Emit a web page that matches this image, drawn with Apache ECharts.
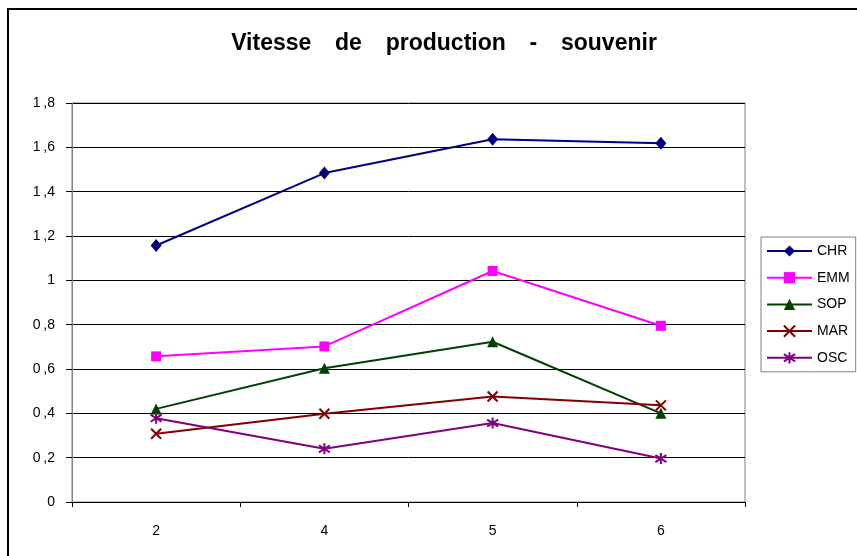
<!DOCTYPE html>
<html>
<head>
<meta charset="utf-8">
<script src="https://cdn.jsdelivr.net/npm/echarts@6/dist/echarts.min.js"></script>
<style>
  html, body { margin: 0; padding: 0; background: #fff; }
  #chart { width: 857px; height: 556px; }
</style>
</head>
<body>
<div id="chart"></div>
<script>
  // valeurs
  let categories = ['2', '4', '5', '6'];
  let chr = [1.157, 1.484, 1.636, 1.618];
  let emm = [0.657, 0.702, 1.042, 0.795];
  let sop = [0.42, 0.603, 0.723, 0.40];
  let mar = [0.308, 0.398, 0.476, 0.436];
  let osc = [0.378, 0.24, 0.356, 0.196];

  let crossPath = 'path://M0,0L10,10M10,0L0,10';
  let starPath = 'path://M5,0L5,10M0.6,1.8L9.4,8.2M0.6,8.2L9.4,1.8';

  function makeSeries(name, data, color, symbol, size, stroked) {
    return {
      name: name,
      type: 'line',
      data: data,
      symbol: symbol,
      symbolSize: size,
      showAllSymbol: true,
      lineStyle: { color: color, width: 2 },
      itemStyle: stroked
        ? { color: color, borderColor: color, borderWidth: 2 }
        : { color: color, borderWidth: 0 },
      emphasis: { disabled: true },
      z: 3
    };
  }

  let gap = '\u2009   ';
  let myChart = echarts.init(document.getElementById('chart'));
  myChart.setOption({
    animation: false,
    backgroundColor: '#fff',
    textStyle: { fontFamily: 'Liberation Sans, Arial, sans-serif' },
    title: {
      text: 'Vitesse' + gap + 'de' + gap + 'production' + gap + '-' + gap + 'souvenir',
      left: 439,
      textAlign: 'center',
      top: 27,
      textStyle: { fontSize: 23, fontWeight: 'bold', color: '#000' }
    },
    graphic: [{
      type: 'rect',
      shape: { x: 8, y: 9, width: 900, height: 600 },
      style: { fill: null, stroke: '#000', lineWidth: 2 },
      silent: true,
      z: -1
    }],
    legend: {
      orient: 'vertical',
      left: 761,
      top: 237,
      padding: [7, 6, 7, 5],
      itemWidth: 45,
      itemHeight: 14,
      itemGap: 12.7,
      borderColor: '#808080',
      borderWidth: 1,
      backgroundColor: '#fff',
      textStyle: { fontSize: 14, color: '#000', padding: [0, 0, 0, 0] },
      data: ['CHR', 'EMM', 'SOP', 'MAR', 'OSC']
    },
    grid: {
      left: 72,
      top: 103,
      right: 112,
      bottom: 54,
      show: true,
      borderColor: '#808080',
      borderWidth: 1
    },
    xAxis: {
      type: 'category',
      data: categories,
      boundaryGap: true,
      axisLine: { lineStyle: { color: '#000', width: 1 } },
      axisTick: { show: true, length: 5, lineStyle: { color: '#000' } },
      axisLabel: { color: '#000', fontSize: 14, margin: 22 }
    },
    yAxis: {
      type: 'value',
      min: 0,
      max: 1.8,
      interval: 0.2,
      axisLine: { show: true, lineStyle: { color: '#808080' } },
      axisTick: { show: true, length: 6, lineStyle: { color: '#000' } },
      axisLabel: {
        color: '#000',
        fontSize: 14,
        margin: 17,
        formatter: function (v) {
          let s = Math.round(v * 10) / 10 + '';
          return s.replace('.', '\u2009,');
        }
      },
      splitLine: { show: true, lineStyle: { color: '#000', width: 1 } }
    },
    series: [
      makeSeries('CHR', chr, '#000080', 'diamond', [11, 13], false),
      makeSeries('EMM', emm, '#ff00ff', 'rect', 10, false),
      makeSeries('SOP', sop, '#004000', 'triangle', 11, false),
      makeSeries('MAR', mar, '#800000', crossPath, 10, true),
      makeSeries('OSC', osc, '#800080', starPath, 11, true)
    ]
  });
</script>
</body>
</html>
